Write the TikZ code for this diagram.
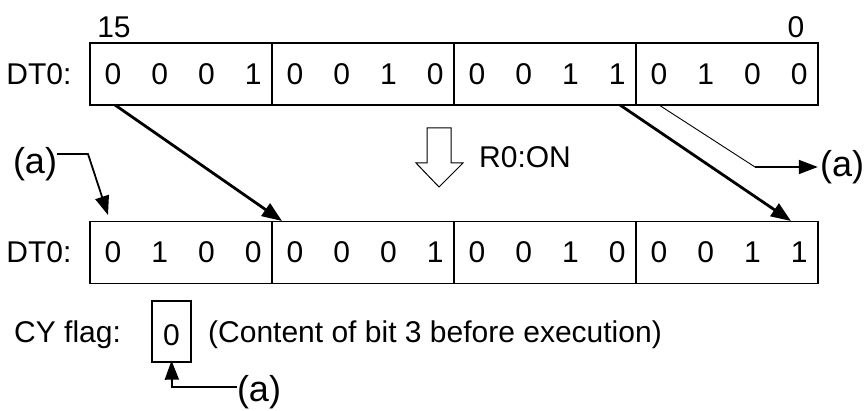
\documentclass[tikz,border=0pt]{standalone}
\usepackage{fontspec}
\setmainfont{Liberation Sans}
\usetikzlibrary{arrows.meta}
\begin{document}
\begin{tikzpicture}[x=1pt,y=-1pt,
  txt/.style={inner sep=0pt,font=\fontsize{30}{35}\selectfont},
  lbl/.style={inner sep=0pt,font=\fontsize{36}{41}\selectfont},
  nib/.style={draw,line width=1.3pt,minimum width=182pt,minimum height=62pt,inner sep=0pt},
  cybox/.style={draw,line width=1.3pt,minimum width=39pt,minimum height=61pt,inner sep=0pt},
  bigarrow/.style={line width=2.8pt,-{Triangle[length=20pt,width=15pt]}},
  refarrow/.style={line width=1.8pt,-{Triangle[length=19pt,width=14pt]}},
  thinline/.style={line width=0.9pt},
  hollow/.style={draw,line width=1pt,fill=white}]
\useasboundingbox (0,0) rectangle (867,411);

% top register
\node[txt] (lt) at (39,74) {DT0:};
\node[txt] (b15) at (114,27) {15};
\node[txt] (b0) at (796,27) {0};
\foreach \i/\cx in {1/181,2/363,3/545,4/727}{
  \node[nib] (tn\i) at (\cx,74) {};
  \node[nib] (bn\i) at (\cx,252.5) {};
}
\foreach \v [count=\k from 0] in {0,0,0,1,0,0,1,0,0,0,1,1,0,1,0,0}{
  \pgfmathsetmacro{\nx}{90+182*int(\k/4)+23+46.7*mod(\k,4)}
  \node[txt] (td\k) at (\nx,74) {\v};
}
% bottom register
\node[txt] (lb) at (39,252.5) {DT0:};
\foreach \v [count=\k from 0] in {0,1,0,0,0,0,0,1,0,0,1,0,0,0,1,1}{
  \pgfmathsetmacro{\nx}{90+182*int(\k/4)+23+46.7*mod(\k,4)}
  \node[txt] (bd\k) at (\nx,252.5) {\v};
}

% hollow arrow and R0:ON
\draw[hollow] (427,128) -- (451,128) -- (451,163) -- (463,163) -- (439,187) -- (416,163) -- (427,163) -- cycle;
\node[txt,anchor=west] (r0) at (479,157) {R0:ON};

% shift arrows
\coordinate (s1) at (115,105);
\coordinate (e1) at (282,221);
\draw[bigarrow] (s1) -- (e1);
\coordinate (s2) at (620,105);
\coordinate (e2) at (791,221);
\draw[bigarrow] (s2) -- (e2);

% right (a)
\node[lbl] (ar) at (842,167) {(a)};
\coordinate (s3) at (659,105);
\coordinate (k3) at (755,167);
\draw[thinline] (s3) -- (k3);
\draw[refarrow] (k3) -- ([xshift=-2pt]ar.west);

% left (a)
\node[lbl] (al) at (35,164) {(a)};
\coordinate (k4) at (88,154);
\coordinate (e4) at (108,215);
\draw[refarrow] (al.east |- k4) -- (k4) -- (e4);

% CY flag
\node[txt,anchor=west] (cy) at (14,335) {CY flag:};
\node[cybox] (cyb) at (171.5,331.5) {};
\node[txt] (cyv) at (171.5,335) {0};
\node[txt,anchor=west] (cmt) at (208,335) {(Content of bit 3 before execution)};

% lower (a)
\node[lbl] (ab) at (259,392) {(a)};
\coordinate (k5) at (172,387);
\draw[refarrow] (ab.west |- k5) -- (k5) -- ([yshift=2pt]cyb.south);
\end{tikzpicture}
\end{document}
